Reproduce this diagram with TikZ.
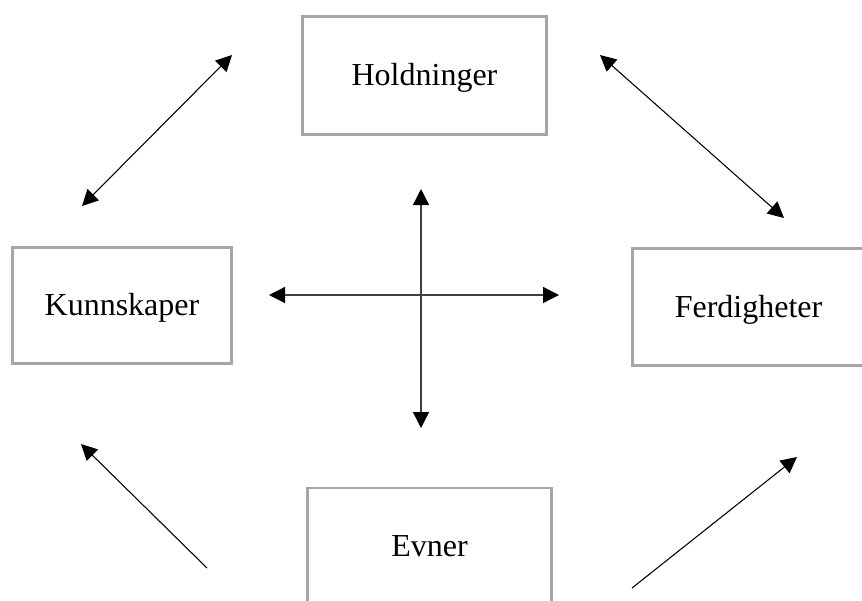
\documentclass[tikz,border=0pt]{standalone}
\usepackage{fontspec}
\setmainfont{Liberation Serif}
\usetikzlibrary{arrows.meta}
\definecolor{boxgray}{HTML}{A6A6A6}
\definecolor{crossgray}{HTML}{404040}
\begin{document}
\begin{tikzpicture}[x=0.75pt,y=-0.75pt,
  box/.style={draw=boxgray, line width=1.6pt, rectangle, inner sep=0pt,
    font=\fontsize{24}{28}\selectfont, text height=17pt, text depth=2pt},
  diag/.style={line width=0.8pt, black, {Triangle[length=12pt,width=12pt]}-{Triangle[length=12pt,width=12pt]}},
  single/.style={line width=0.8pt, black, -{Triangle[length=12pt,width=12pt]}},
  cross/.style={line width=1pt, crossgray, {Triangle[length=12pt,width=12pt,color=black]}-{Triangle[length=12pt,width=12pt,color=black]}}]
\useasboundingbox (0,0) rectangle (862,600);
\clip (0,0) rectangle (862,600);
\fill[white] (0,0) rectangle (862,600);

\node[box, minimum width=183pt, minimum height=88.5pt] (hold) at (424.5,75.5) {Holdninger};
\node[box, minimum width=164.25pt, minimum height=87pt] (kunn) at (122,305.5) {Kunnskaper};
\node[box, minimum width=174pt, minimum height=87.75pt] (ferd) at (748.5,307) {Ferdigheter};
\node[box, minimum width=183pt, minimum height=87.75pt] (evne) at (429.5,546.5) {Evner};

\coordinate (a1) at (82,206);
\coordinate (a2) at (232,55);
\coordinate (b1) at (600,55);
\coordinate (b2) at (784,218);
\coordinate (ct) at (421,189);
\coordinate (cb) at (421,428);
\coordinate (cl) at (269,295);
\coordinate (cr) at (559,295);
\coordinate (d1) at (207,568);
\coordinate (d2) at (81,444);
\coordinate (e1) at (632,588);
\coordinate (e2) at (797,457);

\draw[diag] (a1) -- (a2);
\draw[diag] (b1) -- (b2);
\draw[cross] (cl) -- (cr);
\draw[cross] (ct) -- (cb);
\draw[single] (d1) -- (d2);
\draw[single] (e1) -- (e2);
\end{tikzpicture}
\end{document}
